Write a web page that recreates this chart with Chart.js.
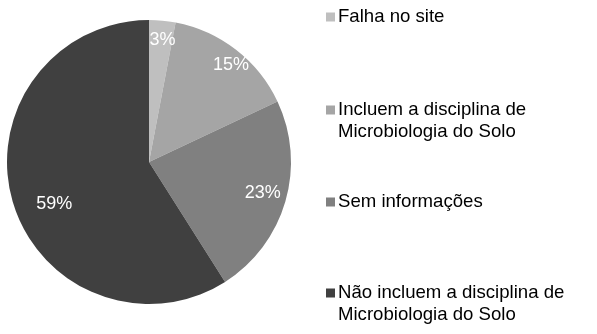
<!DOCTYPE html>
<html>
<head>
<meta charset="utf-8">
<script src="https://cdn.jsdelivr.net/npm/chart.js@4/dist/chart.umd.min.js"></script>
<style>
  html, body { margin: 0; padding: 0; background: #fff; }
  #wrap { position: relative; width: 597px; height: 334px; }
</style>
</head>
<body>
<div id="wrap"><canvas id="pie" width="597" height="334"></canvas></div>
<script>
// data
const categories = [
	["Falha no site"],
	["Incluem a disciplina de", "Microbiologia do Solo"],
	["Sem informações"],
	["Não incluem a disciplina de", "Microbiologia do Solo"]
];
const shares = [3, 15, 23, 59];
const sliceColors = ["#bfbfbf", "#a5a5a5", "#808080", "#404040"];

// where each % label sits: fraction of radius + small turn (deg) off the slice middle,
// mimics excel's "best fit" placement
const labelRadius = [0.865, 0.895, 0.83, 0.73];
const labelTurn = [0.9, 2.4, -0.9, -7.8];
// legend rows: y of first text line, for each entry
const legendRowY = [17, 110, 202, 293];

const font = "Liberation Sans, Arial, sans-serif";

/// writes the percentage inside every slice
const sliceLabels = {
	id: "sliceLabels",
	afterDatasetsDraw(chart) {
		const ctx = chart.ctx;
		const meta = chart.getDatasetMeta(0);
		ctx.save();
		ctx.font = "18px " + font;
		ctx.fillStyle = "#fff";
		ctx.textAlign = "center";
		ctx.textBaseline = "middle";
		meta.data.forEach((arc, i) => {
			const p = arc.getProps(["x", "y", "startAngle", "endAngle", "outerRadius"], true);
			const mid = (p.startAngle + p.endAngle) / 2 + labelTurn[i] * Math.PI / 180;
			const r = p.outerRadius * labelRadius[i];
			ctx.fillText(shares[i] + "%", p.x + Math.cos(mid) * r, p.y + Math.sin(mid) * r);
		});
		ctx.restore();
	}
};

/// legend on the right, drawn by hand so the labels can wrap
const sideLegend = {
	id: "sideLegend",
	afterDraw(chart) {
		const ctx = chart.ctx;
		ctx.save();
		ctx.font = "18.6px " + font;
		ctx.textBaseline = "middle";
		categories.forEach((lines, i) => {
			const y = legendRowY[i];
			ctx.fillStyle = sliceColors[i];
			ctx.fillRect(326, y - 4.5, 9, 9);
			ctx.fillStyle = "#000";
			lines.forEach((t, j) => ctx.fillText(t, 338, y + j * 22));
		});
		ctx.restore();
	}
};

new Chart(document.getElementById("pie"), {
	type: "pie",
	data: {
		labels: categories.map(l => l.join(" ")),
		datasets: [{
			data: shares,
			backgroundColor: sliceColors,
			borderWidth: 0
		}]
	},
	options: {
		responsive: false,
		animation: false,
		layout: { padding: { left: 7, top: 20, right: 306, bottom: 30 } },
		plugins: {
			legend: { display: false },
			tooltip: { enabled: false }
		}
	},
	plugins: [sliceLabels, sideLegend]
});
</script>
</body>
</html>
